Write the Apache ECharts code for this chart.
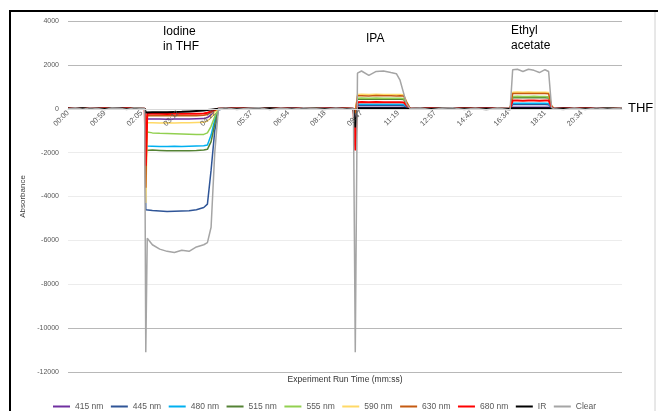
<!DOCTYPE html>
<html>
<head>
<meta charset="utf-8">
<script src="https://cdn.jsdelivr.net/npm/echarts@6/dist/echarts.min.js"></script>
<style>html,body{margin:0;padding:0;background:#fff}#c{width:658px;height:411px}</style>
</head>
<body>
<div id="c"></div>
<script>
// Tick labels of the category-like time axis (one every 10 samples)
const tickLabels = ['00:00','00:59','02:05','03:12','04:22','05:37','06:54','08:18','09:47','11:19','12:57','14:42','16:34','18:31','20:34'];
// Sample index positions where values were read
const sampleIdx = [
  0,2,4,6,8,10,12,14,16,18,20.9,
  21.2,21.6,23,25,27,29,31,33,35,37,38,39,40,41,
  43,46,49,52,55,58,61,64,67,70,73,76,77.8,
  78.3,78.9,80,82,84,86,88,89.5,90.5,91.5,92.3,93.3,
  96,99,102,105,108,111,114,117,120.5,
  121.2,122.5,124,125.5,127,128.5,130,131,131.8,132.5,
  135,138,141,144,147,151
];
const nm415 = [
  0,10,0,10,0,0,10,0,10,0,0,
  -470,-470,-470,-470,-480,-470,-470,-470,-460,-450,-400,-280,-100,0,
  0,10,0,0,10,0,10,0,0,10,0,10,0,
  -500,60,60,60,60,60,60,60,60,55,30,0,
  0,10,0,10,0,0,10,0,0,
  70,70,70,70,70,70,70,65,15,0,
  0,10,0,10,0,0];
const nm445 = [
  10,0,10,0,0,10,0,10,0,0,0,
  -4600,-4580,-4640,-4660,-4680,-4670,-4660,-4650,-4600,-4500,-4350,-2800,-1000,-50,
  10,0,10,0,10,0,0,10,0,10,0,0,0,
  -200,150,160,150,160,150,150,150,150,140,70,0,
  10,0,10,0,0,10,0,10,0,
  190,190,190,190,190,190,190,180,40,0,
  10,0,0,10,0,10];
const nm480 = [
  0,20,0,-10,10,0,20,0,-10,10,0,
  -1700,-1700,-1710,-1720,-1720,-1710,-1720,-1710,-1700,-1690,-1650,-1200,-500,-20,
  20,0,-10,10,0,20,0,-10,10,0,20,0,0,
  -200,200,210,200,210,200,200,200,200,190,100,0,
  0,20,-10,10,0,20,0,-10,0,
  250,250,250,250,250,250,250,240,50,0,
  20,0,-10,10,20,0];
const nm515 = [
  0,0,10,0,0,10,0,0,10,0,0,
  -1900,-1900,-1880,-1900,-1920,-1910,-1920,-1910,-1900,-1880,-1850,-1500,-700,-30,
  0,10,0,0,10,0,0,10,0,0,10,0,0,
  -200,430,440,430,440,430,430,430,430,420,210,0,
  0,10,0,0,10,0,0,10,0,
  500,510,500,500,510,500,500,490,100,0,
  0,10,0,0,10,0];
const nm555 = [
  10,0,0,10,0,0,10,0,0,10,0,
  -1050,-1090,-1100,-1120,-1130,-1140,-1150,-1160,-1170,-1170,-1100,-800,-350,-10,
  0,0,10,0,0,10,0,0,10,0,0,10,0,
  -200,480,490,480,490,480,480,480,480,470,240,0,
  0,0,10,0,0,10,0,0,0,
  560,570,560,560,570,560,560,550,110,0,
  0,0,10,0,0,10];
const nm590 = [
  0,10,0,0,0,10,0,0,0,10,0,
  -4300,-640,-640,-650,-640,-650,-640,-640,-630,-620,-560,-400,-150,0,
  10,0,0,0,10,0,0,0,10,0,0,0,0,
  -200,650,660,650,660,650,650,650,650,640,320,0,
  10,0,0,0,10,0,0,0,0,
  750,760,750,760,750,750,750,740,150,0,
  10,0,0,0,10,0];
const nm630 = [
  10,0,10,0,10,0,10,0,10,0,0,
  -3600,-320,-320,-310,-320,-320,-310,-320,-320,-300,-260,-170,-60,0,
  0,10,0,10,0,10,0,10,0,10,0,10,0,
  -200,590,590,580,600,590,590,580,590,580,300,0,
  0,10,0,10,0,10,0,10,0,
  690,700,690,690,700,690,690,680,130,0,
  0,10,0,10,0,10];
const nm680 = [
  20,10,0,20,10,20,0,10,20,10,0,
  -2600,-230,-230,-230,-240,-230,-230,-230,-230,-220,-180,-120,-40,0,
  20,10,20,0,10,20,10,20,0,10,20,10,0,
  -1900,300,310,300,310,300,300,300,300,290,150,0,
  10,20,0,10,20,10,20,10,0,
  380,380,370,380,380,370,380,380,70,0,
  20,10,20,10,0,10];
const ir = [
  10,0,20,0,10,0,10,20,0,10,0,
  -170,-170,-165,-160,-160,-150,-140,-120,-100,-80,-60,-40,-20,0,
  10,0,10,0,20,0,10,0,10,0,10,0,0,
  -850,20,25,20,25,20,25,20,20,20,10,0,
  10,0,10,0,10,0,10,0,0,
  25,25,20,25,25,20,25,25,5,0,
  10,0,10,0,10,0];
const clear = [
  0,30,-20,40,10,-40,30,20,-30,40,0,
  -11100,-5900,-6200,-6400,-6500,-6550,-6450,-6500,-6300,-6200,-6100,-5400,-2000,0,
  40,-30,20,50,-40,30,-20,40,10,-30,30,-20,0,
  -11100,1620,1720,1520,1700,1720,1650,1600,1300,700,200,0,
  30,-40,20,40,-30,20,-50,30,-60,
  1780,1800,1700,1800,1750,1650,1780,1700,50,0,
  -40,30,-30,40,-20,30];

const seriesNames = ['415 nm','445 nm','480 nm','515 nm','555 nm','590 nm','630 nm','680 nm','IR','Clear'];
const seriesValues = [nm415,nm445,nm480,nm515,nm555,nm590,nm630,nm680,ir,clear];
const seriesColors = ['#7030A0','#2F5597','#00B0F0','#548235','#92D050','#FFD966','#C55A11','#FF0000','#000000','#A5A5A5'];
const seriesWidths = [1.5,1.5,1.5,1.5,1.5,1.5,1.5,2,2,1.5];

const FONT = 'Liberation Sans, Arial, sans-serif';
const chart = echarts.init(document.getElementById('c'));
const dark = '#b8b8b8', light = '#ececec';
const gridTop = 21, gridBottomY = 372, yMin = -12000, yMax = 4000;
const zeroOffset = (gridBottomY - gridTop) * (0 - yMin) / (yMax - yMin); // distance of value 0 above the grid bottom
chart.setOption({
  animation: false,
  backgroundColor: '#fff',
  grid: { left: 68, right: 36, top: gridTop, bottom: 411 - gridBottomY, containLabel: false },
  legend: {
    data: seriesNames, top: 397, left: 48, itemWidth: 17, itemHeight: 2, itemGap: 7.5,
    icon: 'rect',
    textStyle: { fontFamily: FONT, fontSize: 8.5, color: '#595959' }
  },
  xAxis: {
    type: 'value', min: 0, max: 151, interval: 10, zlevel: 1, z: 10,
    position: 'bottom', offset: -zeroOffset,
    axisLine: { onZero: false, lineStyle: { color: '#d9d9d9' } },
    axisTick: { show: false },
    splitLine: { show: false },
    axisLabel: {
      rotate: 45, fontFamily: FONT, fontSize: 7.5, color: '#595959', margin: 3,
      showMaxLabel: false,
      formatter: v => tickLabels[Math.round(v / 10)] || ''
    }
  },
  yAxis: {
    type: 'value', min: yMin, max: yMax, interval: 2000,
    name: 'Absorbance', nameLocation: 'middle', nameGap: 32, nameRotate: 90,
    nameTextStyle: { fontFamily: FONT, fontSize: 8, color: '#404040' },
    axisLine: { show: false, onZero: false }, axisTick: { show: false },
    axisLabel: { fontFamily: FONT, fontSize: 7, color: '#595959', margin: 9, formatter: v => String(v) },
    splitLine: { lineStyle: { width: 1, color: [dark, dark, light, light, light, light, '#d9d9d9', dark, dark] } }
  },
  series: seriesNames.map((n, k) => ({
    name: n, type: 'line', symbol: 'none', showSymbol: false,
    data: sampleIdx.map((x, i) => [x, seriesValues[k][i]]),
    lineStyle: { color: seriesColors[k], width: seriesWidths[k] },
    itemStyle: { color: seriesColors[k] },
    emphasis: { disabled: true }
  })),
  graphic: [
    { type: 'polyline', shape: { points: [[10, 411], [10, 11], [658, 11]] }, style: { stroke: '#000', lineWidth: 2, fill: null } },
    { type: 'line', shape: { x1: 655, y1: 12, x2: 655, y2: 411 }, style: { stroke: '#d0d0d0', lineWidth: 1 } },
    { type: 'text', x: 163, y: 32, style: { text: 'Iodine', font: '12px ' + FONT, fill: '#000', textVerticalAlign: 'middle' } },
    { type: 'text', x: 163, y: 47, style: { text: 'in THF', font: '12px ' + FONT, fill: '#000', textVerticalAlign: 'middle' } },
    { type: 'text', x: 366, y: 39, style: { text: 'IPA', font: '12px ' + FONT, fill: '#000', textVerticalAlign: 'middle' } },
    { type: 'text', x: 511, y: 31, style: { text: 'Ethyl', font: '12px ' + FONT, fill: '#000', textVerticalAlign: 'middle' } },
    { type: 'text', x: 511, y: 46, style: { text: 'acetate', font: '12px ' + FONT, fill: '#000', textVerticalAlign: 'middle' } },
    { type: 'text', x: 628, y: 108, style: { text: 'THF', font: '13px ' + FONT, fill: '#000', textVerticalAlign: 'middle' } },
    { type: 'text', x: 345, y: 380, style: { text: 'Experiment Run Time (mm:ss)', font: '8.5px ' + FONT, fill: '#333', textAlign: 'center', textVerticalAlign: 'middle' } }
  ]
});
</script>
</body>
</html>
